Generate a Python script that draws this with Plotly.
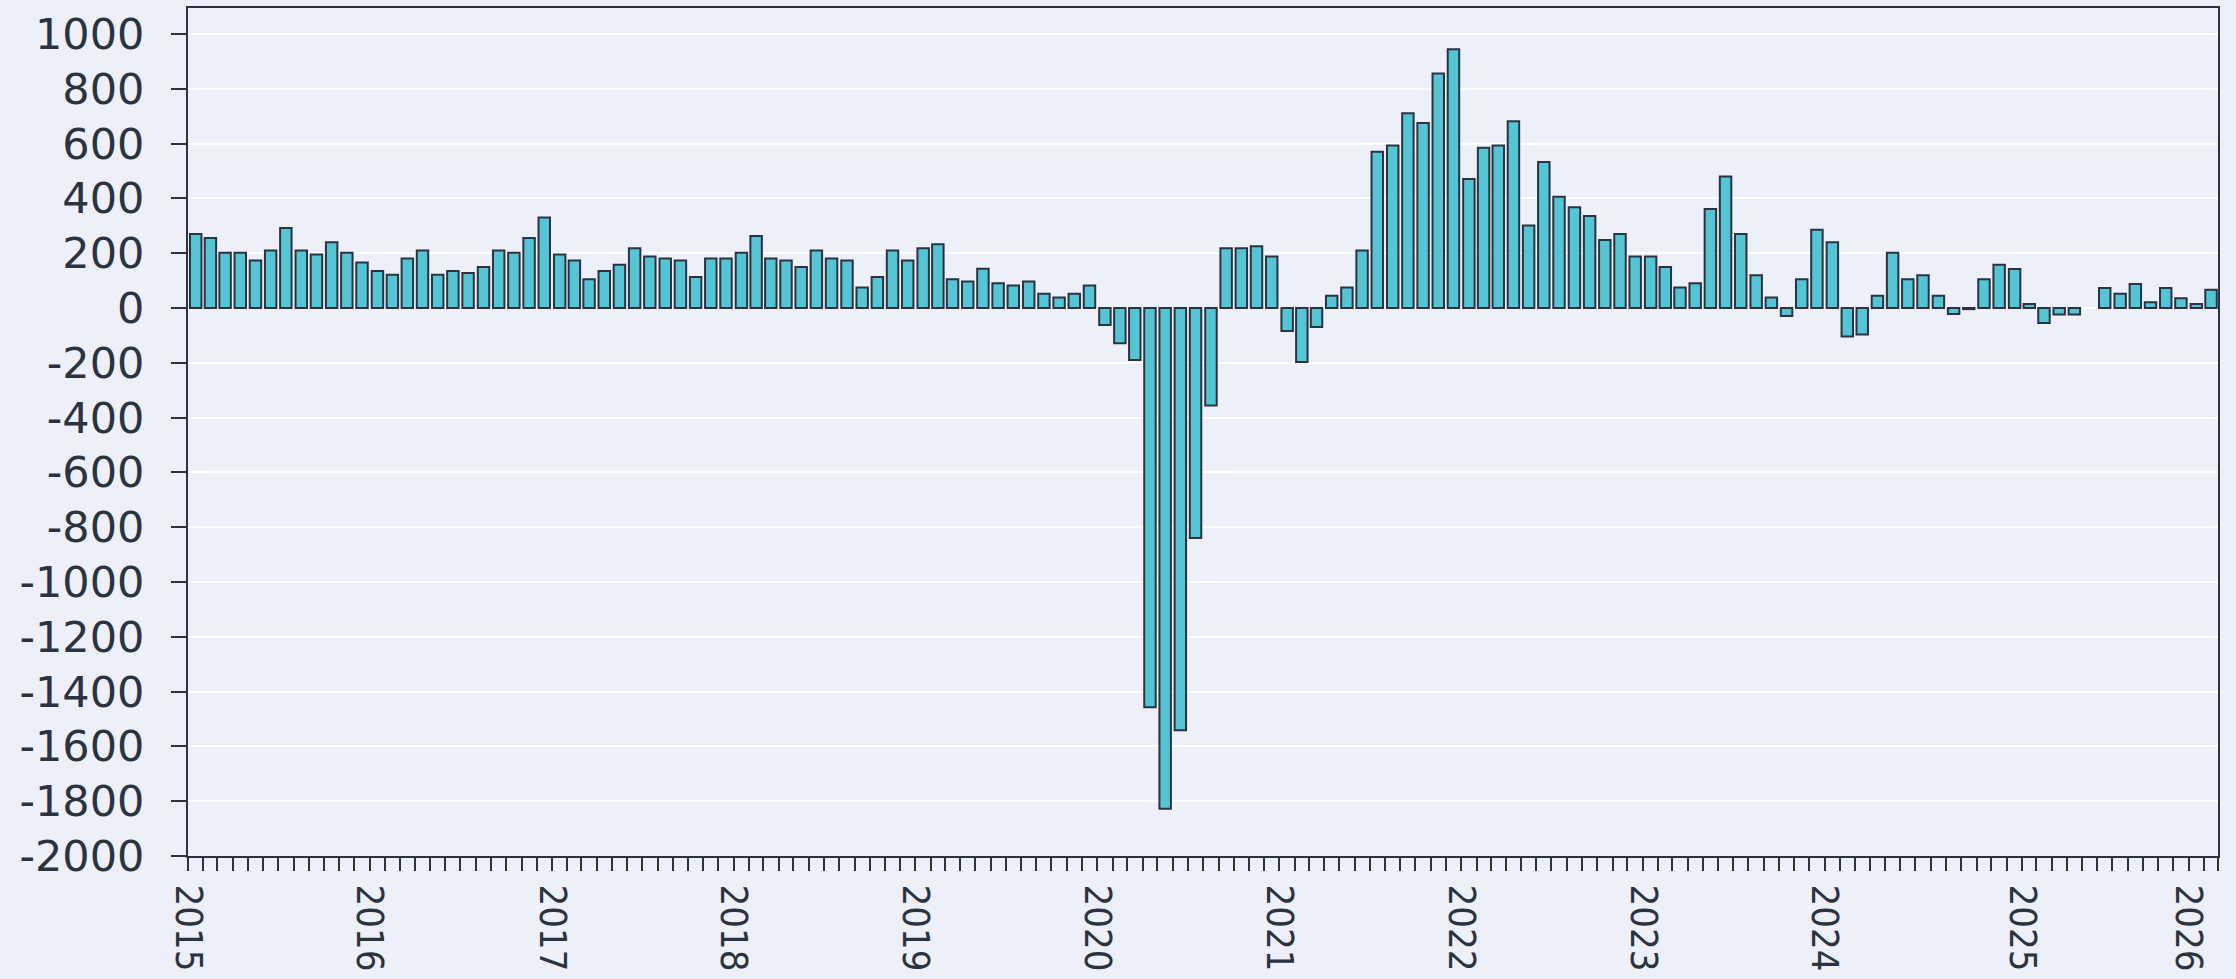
import pandas as pd
import plotly.graph_objects as go


# ---- Data: monthly change, one list per year ----

V2015 = [270, 256, 202, 202, 173, 210, 292, 210, 195, 240, 202, 166]
V2016 = [135, 121, 181, 210, 121, 135, 128, 150, 210, 202, 256, 330]
V2017 = [195, 173, 105, 135, 158, 218, 188, 181, 173, 113, 181, 181]
V2018 = [202, 263, 181, 173, 150, 210, 181, 173, 75, 113, 210, 173]
V2019 = [218, 233, 105, 97, 143, 90, 82, 97, 52, 38, 52, 82]
V2020 = [-62, -129, -190, -1457, -1828, -1541, -839, -356, 218, 218, 225, 188]
V2021 = [-84, -197, -69, 45, 75, 210, 570, 593, 711, 675, 856, 944]
V2022 = [471, 585, 593, 682, 301, 533, 406, 368, 336, 248, 270, 188]
V2023 = [188, 150, 75, 90, 361, 480, 270, 120, 38, -29, 105, 286]
V2024 = [240, -104, -97, 45, 202, 105, 120, 45, -22, -4, 105, 158]
V2025 = [142, 15, -55, -24, -24, None, 73, 52, 88, 21, 73, 36]
V2026 = [15, 67]

VALUES = V2015 + V2016 + V2017 + V2018 + V2019 + V2020 + V2021 + V2022 + V2023 + V2024 + V2025 + V2026
MONTHS = pd.date_range("2015-01-01", periods=len(VALUES), freq="MS")

# x tick labels (year marks)
TICK_DATES = ["2015-01-01", "2016-01-01", "2017-01-01", "2018-01-01", "2019-01-01", "2020-01-01",
              "2021-01-01", "2022-01-01", "2023-01-01", "2024-01-01", "2025-02-01", "2026-01-01"]
TICK_LABELS = ["2015", "2016", "2017", "2018", "2019", "2020",
               "2021", "2022", "2023", "2024", "2025", "2026"]

# y tick labels (plain hyphen minus, as in the original)
Y_TICKS = [-2000, -1800, -1600, -1400, -1200, -1000, -800, -600, -400, -200,
           0, 200, 400, 600, 800, 1000]
Y_LABELS = [str(v) for v in Y_TICKS]

# ---- Style ----
BG = "#EDF0F8"
INK = "#2B3340"
FILL = "#55C5D6"

fig = go.Figure(
    go.Bar(
        x=MONTHS,
        y=VALUES,
        xperiod="M1",
        xperiodalignment="middle",
        marker=dict(color=FILL, line=dict(color=INK, width=2)),
        showlegend=False,
    )
)

fig.update_layout(
    width=2236,
    height=979,
    margin=dict(l=188, r=18, t=8, b=123),
    paper_bgcolor=BG,
    plot_bgcolor=BG,
    bargap=0.22,
    font=dict(family="Liberation Sans, Arial, sans-serif", color=INK),
)

fig.update_xaxes(
    type="date",
    automargin=False,
    range=["2015-01-01", "2026-03-01"],
    tickmode="array",
    tickvals=TICK_DATES,
    ticktext=TICK_LABELS,
    tickangle=90,
    tickfont=dict(family="DejaVu Sans Condensed, DejaVu Sans", size=38, color=INK),
    ticks="outside",
    ticklen=13,
    tickwidth=1.5,
    tickcolor=INK,
    ticklabelstandoff=6,
    minor=dict(
        dtick="M1",
        tick0="2015-01-01",
        ticks="outside",
        ticklen=13,
        tickwidth=1.5,
        tickcolor=INK,
        showgrid=False,
    ),
    showgrid=False,
    showline=True,
    linecolor=INK,
    linewidth=2,
    mirror=True,
)

fig.update_yaxes(
    automargin=False,
    range=[-2000, 1095],
    tickmode="array",
    tickvals=Y_TICKS,
    ticktext=Y_LABELS,
    tickfont=dict(family="DejaVu Sans, Liberation Sans", size=43, color=INK),
    ticks="outside",
    ticklen=15,
    tickwidth=2,
    tickcolor=INK,
    ticklabelstandoff=18,
    showgrid=True,
    gridcolor="white",
    gridwidth=2,
    zeroline=True,
    zerolinecolor="white",
    zerolinewidth=2,
    showline=True,
    linecolor=INK,
    linewidth=2,
    mirror=True,
)

# drop the default page margin so the figure sits at the window's corner
fig.write_html(
    "out.html",
    config={"displayModeBar": False},
    post_script="document.body.style.margin='0';document.body.style.background='%s';" % BG,
)
